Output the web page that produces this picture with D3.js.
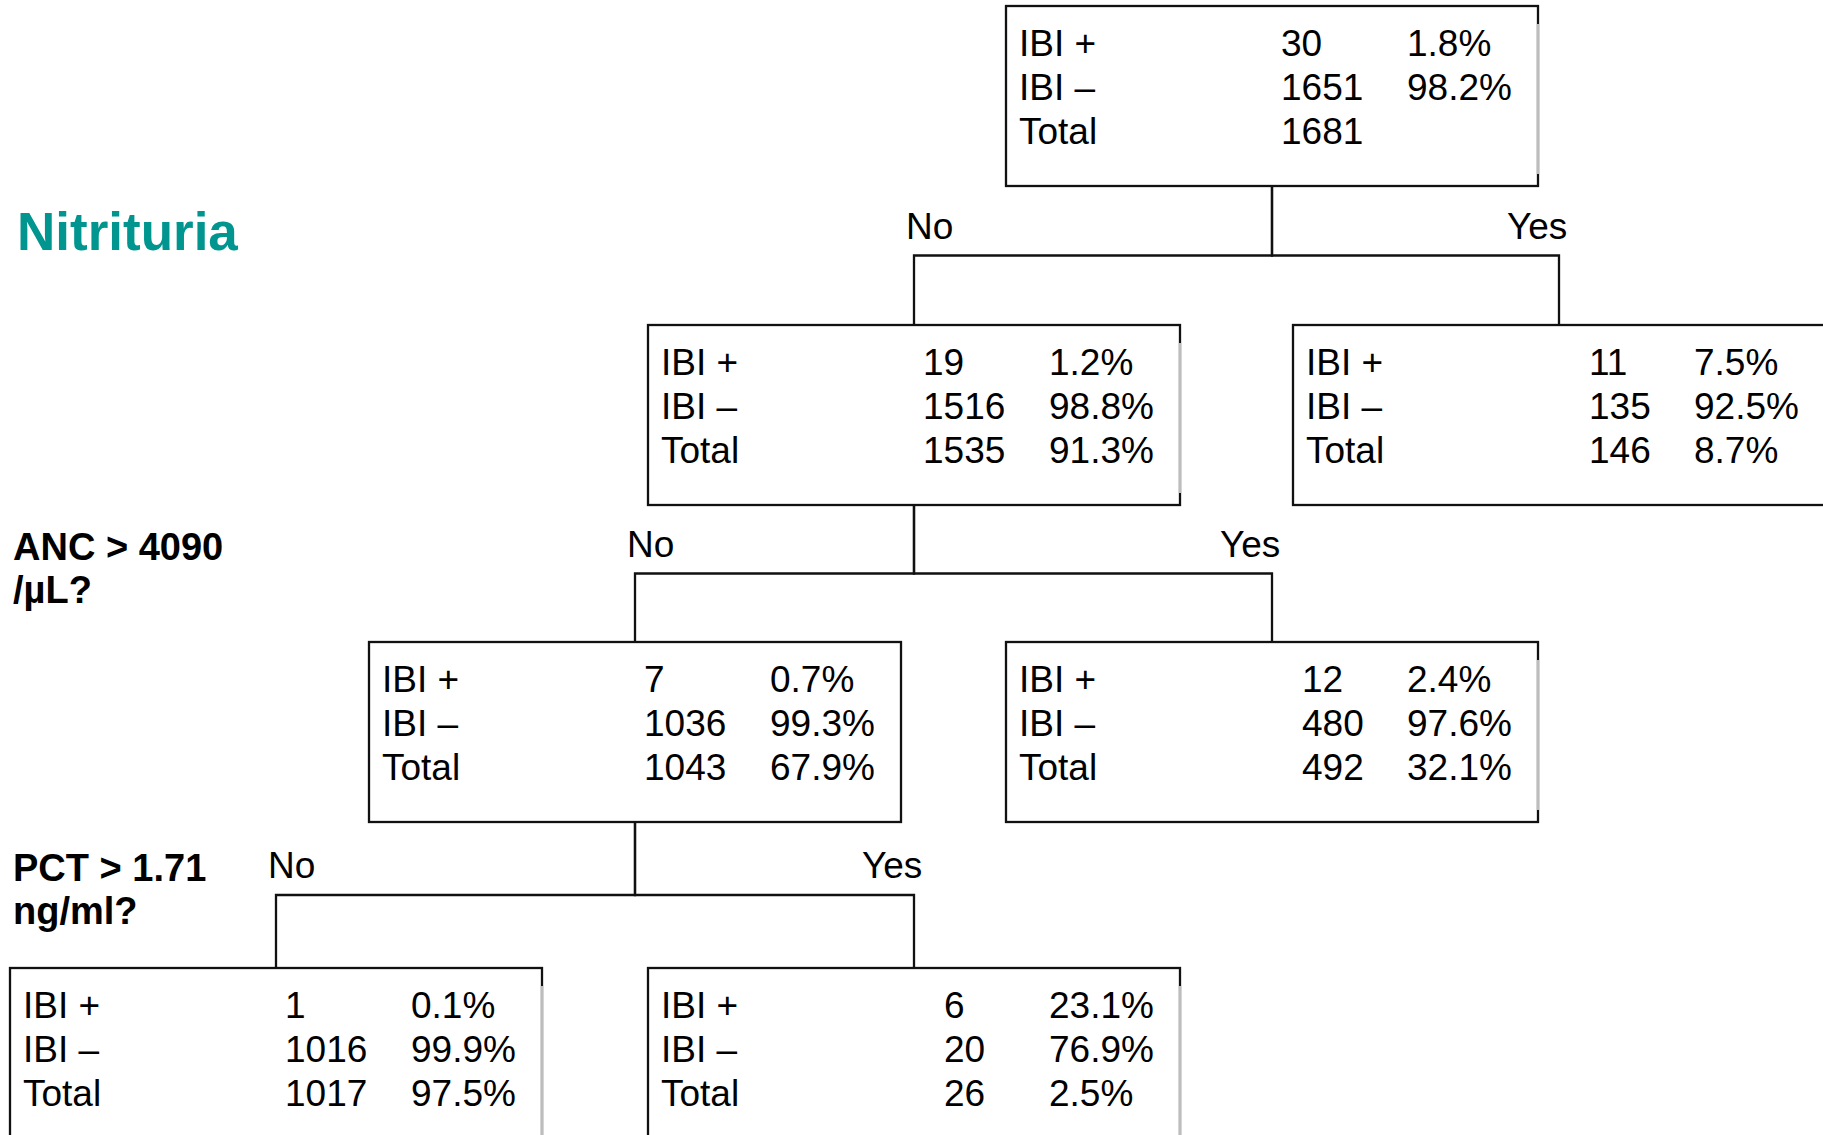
<!DOCTYPE html>
<html>
<head>
<meta charset="utf-8">
<script src="https://cdn.jsdelivr.net/npm/d3@7"></script>
<style>
  html, body { margin: 0; padding: 0; background: #ffffff; }
  svg { display: block; }
</style>
</head>
<body>
<div id="chart"></div>
<script>
// ---------------- DATA ----------------
const nodeIds      = ["root", "nitNo", "nitYes", "ancNo", "ancYes", "pctNo", "pctYes"];
const nodeParents  = [null,   "root",  "root",   "nitNo", "nitNo",  "ancNo", "ancNo"];
const branchLabels = ["",     "No",    "Yes",    "No",    "Yes",    "No",    "Yes"];
const ibiPos       = [30,   19,   11,  7,    12,  1,    6];
const ibiNeg       = [1651, 1516, 135, 1036, 480, 1016, 20];
const totals       = [1681, 1535, 146, 1043, 492, 1017, 26];
const pctPos       = ["1.8%",  "1.2%",  "7.5%",  "0.7%",  "2.4%",  "0.1%",  "23.1%"];
const pctNeg       = ["98.2%", "98.8%", "92.5%", "99.3%", "97.6%", "99.9%", "76.9%"];
const pctTotal     = ["",      "91.3%", "8.7%",  "67.9%", "32.1%", "97.5%", "2.5%"];
const rowLabels    = ["IBI +", "IBI \u2013", "Total"];
const splitNodes   = ["root", "nitNo", "ancNo"];
const splitQuestions = [["Nitrituria"], ["ANC > 4090", "/\u00b5L?"], ["PCT > 1.71", "ng/ml?"]];

// ---------------- LAYOUT ----------------
const W = 1823, H = 1135;
const FONT = "'Liberation Sans', Arial, Helvetica, sans-serif";
const boxW = 532, boxH = 180;
const colCenters = [276, 635, 914, 1272, 1559];
const levelTops = [6, 325, 642, 968];
const fadedRightEdge = new Set(["root", "nitNo", "ancYes", "pctNo", "pctYes"]);

const svg = d3.select("#chart").append("svg")
  .attr("width", W).attr("height", H)
  .attr("viewBox", `0 0 ${W} ${H}`);

const table = nodeIds.map((id, i) => ({
  id, parent: nodeParents[i], branch: branchLabels[i],
  vals: [ibiPos[i], ibiNeg[i], totals[i]],
  pcts: [pctPos[i], pctNeg[i], pctTotal[i]]
}));

const root = d3.stratify().id(d => d.id).parentId(d => d.parent)(table);
d3.tree().nodeSize([1, 1])(root);

const nodes = root.descendants();
const [xmin, xmax] = d3.extent(nodes, d => d.x);
const xDomain = d3.range(colCenters.length).map(i => xmin + i * (xmax - xmin) / (colCenters.length - 1));
const xScale = d3.scaleLinear().domain(xDomain).range(colCenters);
const yScale = d3.scaleLinear().domain(d3.range(levelTops.length)).range(levelTops);

nodes.forEach(n => {
  n.cx = xScale(n.x);
  n.top = yScale(n.depth);
  n.left = n.cx - boxW / 2;
  n.bottom = n.top + boxH;
});

// ---------------- CONNECTORS ----------------
const links = root.links();
const midY = l => (l.source.bottom + l.target.top) / 2;

svg.append("g").selectAll("path").data(links).join("path")
  .attr("d", l => `M${l.source.cx},${l.source.bottom}V${midY(l)}H${l.target.cx}V${l.target.top}`)
  .attr("fill", "none")
  .attr("stroke", "#111")
  .attr("stroke-width", 2.3);

// branch labels
svg.append("g").selectAll("text").data(links).join("text")
  .attr("x", l => l.target.data.branch === "Yes" ? l.target.cx - 52 : l.target.cx - 8)
  .attr("y", l => midY(l) - 17)
  .attr("font-family", FONT)
  .attr("font-size", 37)
  .attr("fill", "#000")
  .text(l => l.target.data.branch);

// ---------------- BOXES ----------------
const boxG = svg.append("g").selectAll("g").data(nodes).join("g")
  .attr("transform", d => `translate(${d.left},${d.top})`);

boxG.append("rect")
  .attr("width", boxW).attr("height", boxH)
  .attr("fill", "#fff")
  .attr("stroke", "#111")
  .attr("stroke-width", 2.3);

// lighter middle part of the right border, as in the reference
boxG.filter(d => fadedRightEdge.has(d.id)).append("line")
  .attr("x1", boxW).attr("x2", boxW)
  .attr("y1", 18).attr("y2", boxH - 12)
  .attr("stroke", "#bdbdbd")
  .attr("stroke-width", 2.4);

const rowBase = [50, 94, 138];
boxG.each(function(d) {
  const g = d3.select(this);
  const maxDigits = d3.max(d.data.vals, v => String(v).length);
  const numX = maxDigits >= 4 ? 275 : 296;
  rowLabels.forEach((lab, r) => {
    g.append("text").attr("x", 13).attr("y", rowBase[r])
      .attr("font-family", FONT).attr("font-size", 37).attr("fill", "#000")
      .text(lab);
    g.append("text").attr("x", numX).attr("y", rowBase[r])
      .attr("font-family", FONT).attr("font-size", 37).attr("fill", "#000")
      .text(d.data.vals[r]);
    g.append("text").attr("x", 401).attr("y", rowBase[r])
      .attr("font-family", FONT).attr("font-size", 37).attr("fill", "#000")
      .text(d.data.pcts[r]);
  });
});

// ---------------- SPLIT QUESTIONS (left) ----------------
splitNodes.forEach((id, i) => {
  const n = nodes.find(d => d.id === id);
  const child = n.children[0];
  const my = (n.bottom + child.top) / 2;
  const isTitle = i === 0;
  const t = svg.append("text")
    .attr("font-family", FONT)
    .attr("font-weight", "bold")
    .attr("font-size", isTitle ? 53 : 38)
    .attr("fill", isTitle ? "#00968F" : "#000");
  splitQuestions[i].forEach((line, k) => {
    t.append("tspan")
      .attr("x", isTitle ? 17 : 13)
      .attr("y", (isTitle ? my - 6 : my - 14) + k * 43)
      .text(line);
  });
});
</script>
</body>
</html>
